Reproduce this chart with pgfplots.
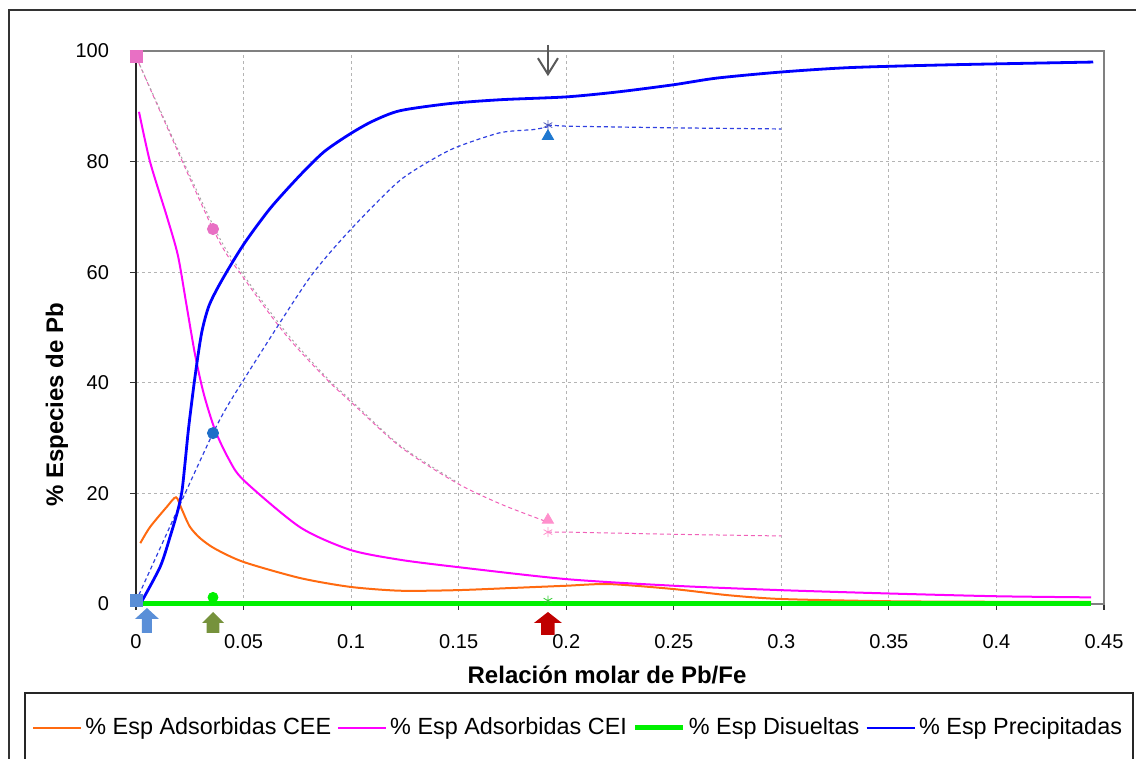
\documentclass[border=0pt]{standalone}
\usepackage{fontspec}
\setmainfont{Liberation Sans}
\usepackage{pgfplots}
\pgfplotsset{compat=1.18}
\definecolor{cee}{HTML}{FF6A10}
\definecolor{cei}{HTML}{FF00FF}
\definecolor{dis}{HTML}{00F000}
\definecolor{pre}{HTML}{0000FF}
\definecolor{pinkd}{HTML}{F060B8}
\definecolor{pinkm}{HTML}{E870C4}
\definecolor{pinkl}{HTML}{FF90CC}
\definecolor{blued}{HTML}{3040E0}
\definecolor{bluesq}{HTML}{5A8ED6}
\definecolor{bluec}{HTML}{1E6EC8}
\definecolor{bluet}{HTML}{1F78D0}
\definecolor{gridc}{HTML}{B4B4B4}
\definecolor{framec}{HTML}{808080}
\definecolor{arrblue}{HTML}{5A8FD8}
\definecolor{arrolive}{HTML}{76923C}
\definecolor{arrred}{HTML}{C00000}
\begin{document}
\begin{tikzpicture}
\path[use as bounding box] (0pt,0pt) rectangle (568pt,379.5pt);
\draw[black!80, line width=0.7pt] (4.5pt,-5pt) -- (4.5pt,374.5pt) -- (575pt,374.5pt);
\draw[black!85, line width=0.6pt] (12.5pt,-2pt) rectangle (566.5pt,33pt);
\begin{axis}[
  at={(68pt,77.5pt)}, anchor=south west,
  scale only axis, width=484pt, height=276.5pt,
  xmin=0, xmax=0.45, ymin=0, ymax=100,
  xtick={0,0.05,...,0.45}, ytick={0,20,...,100},
  xticklabels={0,0.05,0.1,0.15,0.2,0.25,0.3,0.35,0.4,0.45},
  xtick pos=left, ytick pos=left,
  tick align=outside, major tick length=3pt,
  tick style={black!80, line width=0.6pt},
  grid=major,
  major grid style={gridc, line width=0.5pt, dash pattern=on 1.5pt off 1.5pt},
  axis line style={framec, line width=1pt},
  /pgf/number format/assume math mode=true,
  ticklabel style={font=\fontsize{10}{12}\selectfont},
  xticklabel style={anchor=center, yshift=-16pt},
  yticklabel style={anchor=east, xshift=-7pt},
  xlabel={Relación molar de Pb/Fe},
  ylabel={\% Especies de Pb},
  every axis x label/.style={at={(rel axis cs:0.4866,0)}, anchor=center, yshift=-35.5pt, font=\fontsize{12}{14}\selectfont\bfseries},
  every axis y label/.style={at={(rel axis cs:-0.0816,0.36)}, anchor=center, rotate=90, font=\fontsize{12}{14}\selectfont\bfseries},
  clip=false,
  legend columns=4,
  legend style={at={(-0.1074,-0.2242)}, anchor=west, draw=none, fill=none,
    inner sep=0pt, font=\fontsize{11.7}{14}\selectfont,
    /tikz/every even column/.append style={column sep=1.5pt},
    nodes={inner sep=1.5pt}},
  legend image code/.code={\draw[#1] (0pt,0pt) -- (24pt,0pt);},
]
% dashed model curves
\addplot[pinkd, line width=0.5pt, dash pattern=on 2pt off 1.5pt, smooth, tension=0.5, forget plot] coordinates {
(0,99) (0.0358,67.8) (0.05,59) (0.07,48.5) (0.089,40.5) (0.1,36.5) (0.123,28.4) (0.149,21.9) (0.17,18) (0.1915,14.8)};
\addplot[gray!70, line width=0.5pt, dash pattern=on 1pt off 1.5pt, smooth, tension=0.5, forget plot] coordinates {
(0,99) (0.0358,68.5) (0.05,59.5) (0.07,49) (0.089,40.8) (0.1,36.8) (0.123,28.6) (0.149,22.1)};
\addplot[pinkd, line width=0.5pt, dash pattern=on 2pt off 1.5pt, forget plot] coordinates {
(0.1915,13.0) (0.2,13.0) (0.25,12.6) (0.3,12.3)};
\addplot[blued, line width=0.6pt, dash pattern=on 2pt off 1.5pt, smooth, tension=0.4, forget plot] coordinates {
(0,0.5) (0.0358,30.9) (0.05,40.5) (0.08,58.6) (0.0995,67.6) (0.123,76.7) (0.146,82.1) (0.169,85.2) (0.185,85.8) (0.1915,86.3)};
\addplot[blued, line width=0.6pt, dash pattern=on 2pt off 1.5pt, forget plot] coordinates {
(0.1915,86.6) (0.2,86.4) (0.25,86.1) (0.3,85.9)};
% solid series
\addplot[cee, line width=1pt, smooth, tension=0.45] coordinates {
(0.002,11) (0.0065,13.9) (0.0144,17.6) (0.0186,19.3) (0.0212,17.2) (0.025,14.0) (0.0298,11.9) (0.0367,10.0) (0.05,7.6) (0.0762,4.7) (0.0995,3.1) (0.1227,2.4) (0.149,2.5) (0.175,2.9) (0.2,3.3) (0.22,3.6) (0.25,2.7) (0.275,1.6) (0.3,0.9) (0.35,0.5) (0.4,0.4) (0.444,0.4)};
\addlegendentry{\% Esp Adsorbidas CEE}
\addplot[cei, line width=1pt, smooth, tension=0.45] coordinates {
(0.0014,89) (0.0065,80) (0.0144,70) (0.0195,63) (0.0235,54) (0.0275,45) (0.0315,38) (0.0367,31.5) (0.043,26.3) (0.05,22.4) (0.0762,13.9) (0.0995,9.8) (0.1227,8.0) (0.149,6.7) (0.2,4.5) (0.25,3.3) (0.3,2.5) (0.35,1.9) (0.4,1.4) (0.444,1.2)};
\addlegendentry{\% Esp Adsorbidas CEI}
\addplot[dis, line width=2.5pt] coordinates {(0.002,0) (0.444,0)};
\addlegendentry{\% Esp Disueltas}
\addplot[pre, line width=1.4pt, smooth, tension=0.45] coordinates {
(0.002,0) (0.0112,6.7) (0.0158,12.1) (0.0195,17) (0.0214,20.5) (0.0228,25.5) (0.0245,32) (0.0274,41) (0.0305,49) (0.034,54) (0.04,58.6) (0.05,65.0) (0.0623,71.5) (0.0762,77.5) (0.0875,81.8) (0.0995,85.0) (0.11,87.3) (0.1227,89.2) (0.146,90.5) (0.17,91.2) (0.2,91.7) (0.224,92.6) (0.25,93.9) (0.27,95.1) (0.3,96.2) (0.332,97.0) (0.378,97.5) (0.445,98.0)};
\addlegendentry{\% Esp Precipitadas}
% experimental points
\addplot[only marks, mark=square*, mark size=3pt, pinkm, forget plot] coordinates {(0,99)};
\addplot[only marks, mark=*, mark size=2.8pt, pinkm, forget plot] coordinates {(0.0358,67.8)};
\addplot[only marks, mark=triangle*, mark size=3.2pt, pinkl, forget plot] coordinates {(0.1915,15.2)};
\addplot[only marks, mark=asterisk, mark size=2.5pt, pinkl, forget plot] coordinates {(0.1915,13.0)};
\addplot[only marks, mark=square*, mark size=3pt, bluesq, forget plot] coordinates {(0,0.7)};
\addplot[only marks, mark=*, mark size=2.8pt, bluec, forget plot] coordinates {(0.0358,30.9)};
\addplot[only marks, mark=triangle*, mark size=3.2pt, bluet, forget plot] coordinates {(0.1915,84.6)};
\addplot[only marks, mark=asterisk, mark size=2.5pt, blued!60!gray, forget plot] coordinates {(0.1915,86.6)};
\addplot[only marks, mark=*, mark size=2.5pt, dis, forget plot] coordinates {(0.0358,1.2)};
\addplot[only marks, mark=asterisk, mark size=2.5pt, green!60!gray, forget plot] coordinates {(0.1915,0.6)};
% left axis line darker
\draw[black!85, line width=1pt] (rel axis cs:0,0) -- (rel axis cs:0,1);
% annotation arrows
\draw[black!65, line width=1pt] (axis cs:0.1915,101.1) -- (axis cs:0.1915,95.8);
\draw[black!65, line width=1pt] ([xshift=-5pt]axis cs:0.1915,98.7) -- (axis cs:0.1915,95.8) -- ([xshift=5pt]axis cs:0.1915,98.7);
\fill[arrblue] ([yshift=-2pt]axis cs:0.0051,0) -- ([xshift=6pt,yshift=-7.5pt]axis cs:0.0051,0) -- ([xshift=2.5pt,yshift=-7.5pt]axis cs:0.0051,0) -- ([xshift=2.5pt,yshift=-14.5pt]axis cs:0.0051,0) -- ([xshift=-2.5pt,yshift=-14.5pt]axis cs:0.0051,0) -- ([xshift=-2.5pt,yshift=-7.5pt]axis cs:0.0051,0) -- ([xshift=-6pt,yshift=-7.5pt]axis cs:0.0051,0) -- cycle;
\fill[arrolive] ([yshift=-4pt]axis cs:0.0358,0) -- ([xshift=5.5pt,yshift=-9.5pt]axis cs:0.0358,0) -- ([xshift=3.2pt,yshift=-9.5pt]axis cs:0.0358,0) -- ([xshift=3.2pt,yshift=-14.5pt]axis cs:0.0358,0) -- ([xshift=-3.2pt,yshift=-14.5pt]axis cs:0.0358,0) -- ([xshift=-3.2pt,yshift=-9.5pt]axis cs:0.0358,0) -- ([xshift=-5.5pt,yshift=-9.5pt]axis cs:0.0358,0) -- cycle;
\fill[arrred] ([yshift=-4pt]axis cs:0.1915,0) -- ([xshift=7pt,yshift=-9.5pt]axis cs:0.1915,0) -- ([xshift=3.4pt,yshift=-9.5pt]axis cs:0.1915,0) -- ([xshift=3.4pt,yshift=-15.5pt]axis cs:0.1915,0) -- ([xshift=-3.4pt,yshift=-15.5pt]axis cs:0.1915,0) -- ([xshift=-3.4pt,yshift=-9.5pt]axis cs:0.1915,0) -- ([xshift=-7pt,yshift=-9.5pt]axis cs:0.1915,0) -- cycle;
\end{axis}
\end{tikzpicture}
\end{document}
